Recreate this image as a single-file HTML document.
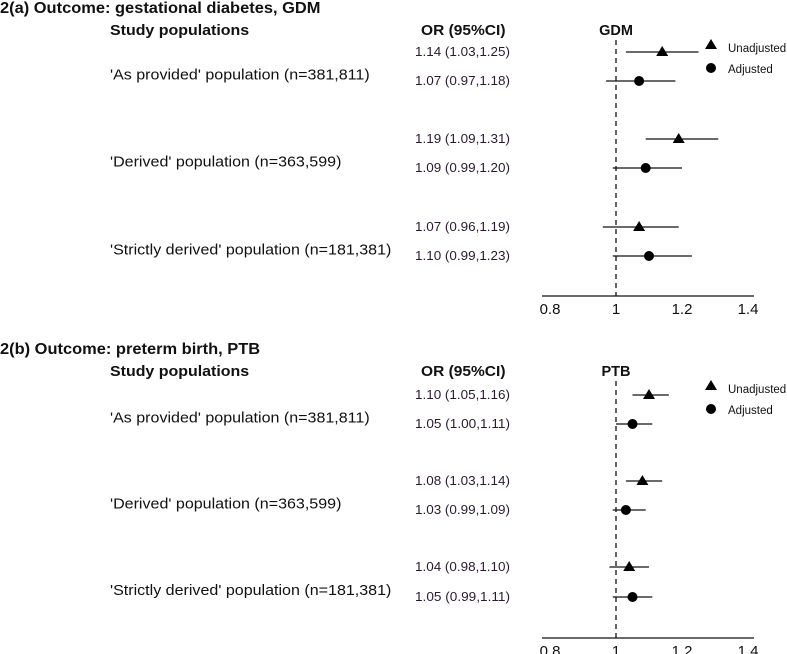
<!DOCTYPE html>
<html><head><meta charset="utf-8"><style>
body{margin:0;background:#fff;}
svg{display:block;font-family:"Liberation Sans",sans-serif;}
.t{font-weight:bold;font-size:15.5px;fill:#111;}
.h{font-weight:bold;font-size:14.5px;fill:#111;}
.p{font-size:15px;fill:#111;}
.o{font-size:12.5px;fill:#2a1a30;}
.tk{font-size:15px;fill:#111;}
.lg{font-size:11.5px;fill:#111;}
</style></head><body>
<svg id="chart" width="787" height="654" viewBox="0 0 787 654"></svg>
<script>
const outcomes = ["GDM","PTB"];
const panelTitles = ["2(a) Outcome: gestational diabetes, GDM","2(b) Outcome: preterm birth, PTB"];
const populations = ["'As provided' population (n=381,811)","'Derived' population (n=363,599)","'Strictly derived' population (n=181,381)"];
const seriesNames = ["Unadjusted","Adjusted"];
const gdmOR = [[1.14,1.03,1.25],[1.07,0.97,1.18],[1.19,1.09,1.31],[1.09,0.99,1.20],[1.07,0.96,1.19],[1.10,0.99,1.23]];
const ptbOR = [[1.10,1.05,1.16],[1.05,1.00,1.11],[1.08,1.03,1.14],[1.03,0.99,1.09],[1.04,0.98,1.10],[1.05,0.99,1.11]];
const xTicks = [0.8,1,1.2,1.4];
const xTickLabels = ["0.8","1","1.2","1.4"];

const svg = document.getElementById('chart');
const NS = "http://www.w3.org/2000/svg";
function mk(tag, attrs, parent){const e=document.createElementNS(NS,tag);for(const k in attrs)e.setAttribute(k,attrs[k]);(parent||svg).appendChild(e);return e;}
function xs(v){return 616 + (v-1)*330;}
const rowYs=[[52,81,139,168,227,256],[395,424,481,510,567,597]];
const headerOff=[0,341];
const axisYs=[296,638];
function fmt(v){return v.toFixed(2);}
function stretch(el,ratio){const w=el.getComputedTextLength();el.setAttribute('textLength',w*ratio);el.setAttribute('lengthAdjust','spacingAndGlyphs');}

[gdmOR, ptbOR].forEach((data,pi)=>{
  const oy = headerOff[pi];
  const rows = rowYs[pi];
  const ay = axisYs[pi];
  const g = mk('g',{});
  
  
  let t=mk('text',{x:0,y:oy+13,class:'t'},g);t.textContent=panelTitles[pi];
  
  stretch(t,1.06);
  t=mk('text',{x:110,y:oy+35,class:'h'},g);t.textContent="Study populations";
  
  stretch(t,1.1);
  t=mk('text',{x:421,y:oy+35,class:'h'},g);t.textContent="OR (95%CI)";
  
  stretch(t,1.07);
  t=mk('text',{x:616,y:oy+35,class:'h','text-anchor':'middle'},g);t.textContent=outcomes[pi];
  
  populations.forEach((p,i)=>{
    const tt=mk('text',{x:110,y:(rows[2*i]+rows[2*i+1])/2+13,class:'p'},g);tt.textContent=p;
    
    stretch(tt,1.07);
  });
  let l=mk('line',{x1:xs(1),x2:xs(1),y1:oy+40,y2:ay,stroke:'#111','stroke-width':1.3,'stroke-dasharray':'5,4'},g);
  
  l=mk('line',{x1:542,x2:754,y1:ay,y2:ay,stroke:'#111','stroke-width':1.3},g);
  
  xTicks.forEach((v,i)=>{
    const tt=mk('text',{x:xs(v),y:ay+18,class:'tk','text-anchor':'middle'},g);tt.textContent=xTickLabels[i];
    
  });
  data.forEach((d,r)=>{
    const y=rows[r];
    const tt=mk('text',{x:415,y:y+4,class:'o'},g);tt.textContent=fmt(d[0])+" ("+fmt(d[1])+","+fmt(d[2])+")";
    
    stretch(tt,95/tt.getComputedTextLength());
    const ci=mk('line',{x1:xs(d[1]),x2:xs(d[2]),y1:y,y2:y,stroke:'#111','stroke-width':1.3},g);
    
    const cx=xs(d[0]);
    let m;
    if(r%2===0){m=mk('polygon',{points:`${cx-6},${y+4} ${cx+6},${y+4} ${cx},${y-6}`,fill:'#000'},g);
      }
    else{m=mk('circle',{cx:cx,cy:y,r:5,fill:'#000'},g);}
    
  });
  let lm=mk('polygon',{points:`705,${oy+49} 717,${oy+49} 711,${oy+39}`,fill:'#000'},g);
  
  lm=mk('circle',{cx:711,cy:oy+68,r:5,fill:'#000'},g);
  
  seriesNames.forEach((s,i)=>{
    const tt=mk('text',{x:728,y:oy+(i===0?52:73),class:'lg'},g);tt.textContent=s;
    
  });
});
</script>
</body></html>
